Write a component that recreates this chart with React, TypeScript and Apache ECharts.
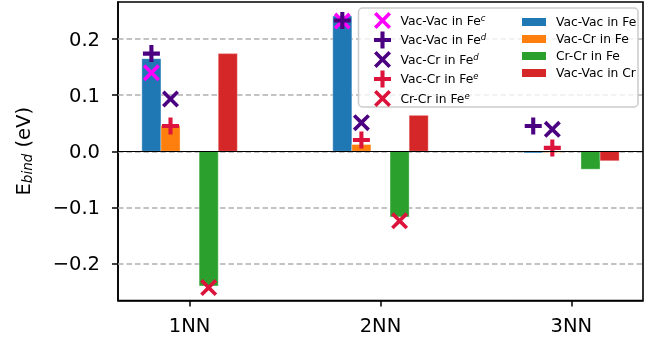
import React, { useEffect, useRef } from 'react';
import * as echarts from 'echarts';

// Pair distance shells
const CATEGORIES = ['1NN', '2NN', '3NN'];
const Y_TICKS = [-0.2, -0.1, 0, 0.1, 0.2];

// Binding energies (eV) computed here, drawn as bars
const VAC_VAC_FE = [0.165, 0.241, -0.003];
const VAC_CR_FE = [0.046, 0.012, -0.002];
const CR_CR_FE = [-0.24, -0.117, -0.032];
const VAC_VAC_CR = [0.174, 0.064, -0.017];

// Reference values from the literature, drawn as markers
const VAC_VAC_FE_C: (number | null)[] = [0.14, 0.232, null];
const VAC_VAC_FE_D: (number | null)[] = [0.174, 0.233, 0.045];
const VAC_CR_FE_D: (number | null)[] = [0.093, 0.051, 0.039];
const VAC_CR_FE_E: (number | null)[] = [0.045, 0.02, 0.006];
const CR_CR_FE_E: (number | null)[] = [-0.243, -0.124, null];

const FONT = 'DejaVu Sans';
const BAR_W = 0.1;

const PLUS =
  'path://M0.38,0H0.62V0.38H1V0.62H0.62V1H0.38V0.62H0V0.38H0.38Z';
const CROSS =
  'path://M0,0.15L0.15,0L0.5,0.35L0.85,0L1,0.15L0.65,0.5L1,0.85L0.85,1L0.5,0.65L0.15,1L0,0.85L0.35,0.5Z';

const barSeries = (name: string, values: number[], offset: number, color: string) => ({
  name,
  type: 'custom',
  z: 3,
  itemStyle: { color },
  data: values.map((v, i) => [i + offset, v]),
  renderItem: (_params: any, api: any) => {
    const x = api.value(0);
    const y = api.value(1);
    const a = api.coord([x - BAR_W / 2, 0]);
    const b = api.coord([x + BAR_W / 2, y]);
    return {
      type: 'rect',
      shape: {
        x: a[0],
        y: Math.min(a[1], b[1]),
        width: b[0] - a[0],
        height: Math.abs(b[1] - a[1]),
      },
      style: { fill: color, stroke: 'rgba(255,255,255,0.35)', lineWidth: 1 },
    };
  },
});

const markerSeries = (
  name: string,
  values: (number | null)[],
  offset: number,
  symbol: string,
  color: string
) => ({
  name,
  type: 'scatter',
  z: 4,
  symbol,
  symbolSize: 17,
  itemStyle: { color, opacity: 1 },
  data: values
    .map((v, i) => (v === null ? null : [i + offset, v]))
    .filter((d) => d !== null),
});

const supFormatter = (name: string) => {
  const [base, sup] = name.split('^');
  return sup ? `{t|${base}}{s|${sup}}` : `{t|${base}}`;
};

export default function App() {
  const ref = useRef<HTMLDivElement>(null);

  useEffect(() => {
    if (!ref.current) return;
    const chart = echarts.init(ref.current, undefined, { renderer: 'svg' });

    const markers = [
      markerSeries('Vac-Vac in Fe^c', VAC_VAC_FE_C, -0.2, CROSS, '#ff00ff'),
      markerSeries('Vac-Vac in Fe^d', VAC_VAC_FE_D, -0.2, PLUS, '#4b0082'),
      markerSeries('Vac-Cr in Fe^d', VAC_CR_FE_D, -0.1, CROSS, '#4b0082'),
      markerSeries('Vac-Cr in Fe^e', VAC_CR_FE_E, -0.1, PLUS, '#dc143c'),
      markerSeries('Cr-Cr in Fe^e', CR_CR_FE_E, 0.1, CROSS, '#dc143c'),
    ];
    const bars = [
      barSeries('Vac-Vac in Fe', VAC_VAC_FE, -0.2, '#1f77b4'),
      barSeries('Vac-Cr in Fe', VAC_CR_FE, -0.1, '#ff7f0e'),
      barSeries('Cr-Cr in Fe', CR_CR_FE, 0.1, '#2ca02c'),
      barSeries('Vac-Vac in Cr', VAC_VAC_CR, 0.2, '#d62728'),
    ];

    // dashed horizontal grid plus the solid zero line
    (bars[0] as any).markLine = {
      silent: true,
      symbol: 'none',
      z: 1,
      label: { show: false },
      data: Y_TICKS.map((v) => ({
        yAxis: v,
        lineStyle: { color: '#b0b0b0', width: 1.5, type: [5.5, 3] },
      })),
    };
    const zeroLine = {
      name: 'zero',
      type: 'line',
      z: 5,
      data: [],
      markLine: {
        silent: true,
        symbol: 'none',
        label: { show: false },
        data: [{ yAxis: 0, lineStyle: { color: '#000', width: 1.2, type: 'solid' } }],
      },
    };

    const legendText = {
      fontFamily: FONT,
      color: '#000',
      rich: {
        t: { fontFamily: FONT, fontSize: 12.3, lineHeight: 15, color: '#000' },
        s: {
          fontFamily: FONT,
          fontSize: 8.5,
          fontStyle: 'italic',
          lineHeight: 10,
          verticalAlign: 'top',
          color: '#000',
        },
      },
    };

    chart.setOption({
      animation: false,
      grid: {
        left: 118,
        right: 16,
        top: 2,
        bottom: 43.5,
        show: true,
        borderColor: '#000',
        borderWidth: 1.6,
        backgroundColor: 'transparent',
      },
      xAxis: {
        type: 'value',
        min: -0.375,
        max: 2.375,
        splitLine: { show: false },
        axisLine: { show: true, onZero: false, lineStyle: { color: '#000', width: 1.6 } },
        axisTick: {
          show: true,
          customValues: [0, 1, 2],
          length: 6,
          lineStyle: { color: '#000', width: 1.5 },
        },
        axisLabel: {
          customValues: [0, 1, 2],
          formatter: (v: number) => CATEGORIES[Math.round(v)] ?? '',
          fontFamily: FONT,
          fontSize: 19.5,
          color: '#000',
          margin: 15,
        },
      },
      yAxis: {
        type: 'value',
        min: -0.266,
        max: 0.266,
        name: '{e|E}{b|bind}{e| (eV)}',
        nameLocation: 'middle',
        nameGap: 84,
        nameTextStyle: {
          fontFamily: FONT,
          fontSize: 19.5,
          color: '#000',
          rich: {
            e: { fontFamily: FONT, fontSize: 19.5, lineHeight: 22, color: '#000' },
            b: {
              fontFamily: FONT,
              fontSize: 13.5,
              fontStyle: 'italic',
              lineHeight: 14,
              verticalAlign: 'bottom',
              color: '#000',
            },
          },
        },
        splitLine: { show: false },
        axisLine: { show: true, onZero: false, lineStyle: { color: '#000', width: 1.6 } },
        axisTick: {
          show: true,
          customValues: Y_TICKS,
          length: 6,
          lineStyle: { color: '#000', width: 1.5 },
        },
        axisLabel: {
          customValues: Y_TICKS,
          formatter: (v: number) => v.toFixed(1).replace('-', '\u2212'),
          fontFamily: FONT,
          fontSize: 19.5,
          color: '#000',
          margin: 18,
        },
      },
      legend: [
        {
          orient: 'vertical',
          left: 369,
          top: 7,
          itemWidth: 26,
          itemHeight: 17,
          itemGap: 2.5,
          selectedMode: false,
          formatter: supFormatter,
          textStyle: legendText,
          data: markers.map((m) => ({
            name: m.name,
            icon: m.symbol,
            itemStyle: { color: m.itemStyle.color },
          })),
        },
        {
          orient: 'vertical',
          left: 517,
          top: 11,
          itemWidth: 24,
          itemHeight: 8,
          itemGap: 5,
          selectedMode: false,
          formatter: (n: string) => `{r|${n}}`,
          textStyle: {
            fontFamily: FONT,
            color: '#000',
            rich: {
              r: { fontFamily: FONT, fontSize: 12.3, lineHeight: 15, color: '#000', padding: [0, 0, 0, 5] },
            },
          },
          data: bars.map((b) => ({
            name: b.name,
            icon: 'rect',
            itemStyle: { color: b.itemStyle.color },
          })),
        },
      ],
      graphic: [
        {
          type: 'rect',
          z: 3.5,
          silent: true,
          shape: { x: 358.5, y: 8, width: 279.5, height: 99, r: 4 },
          style: { fill: 'rgba(255,255,255,0.8)', stroke: '#cccccc', lineWidth: 1.5 },
        },
      ],
      series: [...bars, zeroLine, ...markers],
    });

    return () => chart.dispose();
  }, []);

  return (
    <div
      ref={ref}
      style={{ position: 'fixed', left: 0, top: 0, width: 659, height: 344 }}
    />
  );
}
